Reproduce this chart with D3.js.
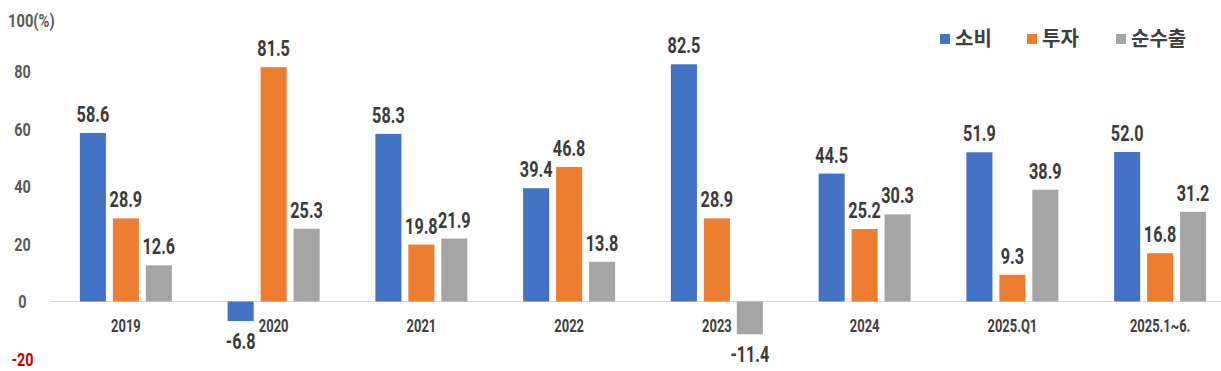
<!DOCTYPE html>
<html><head><meta charset="utf-8">
<script src="https://cdn.jsdelivr.net/npm/d3@7"></script>
<style>body{margin:0;background:#fff}</style>
</head><body>
<svg id="c" width="1221" height="371"></svg>
<script>
const categories = ["2019","2020","2021","2022","2023","2024","2025.Q1","2025.1~6."];
const seriesNames = ["소비","투자","순수출"];
const consumption = [58.6,-6.8,58.3,39.4,82.5,44.5,51.9,52.0];
const investment = [28.9,81.5,19.8,46.8,28.9,25.2,9.3,16.8];
const netExports = [12.6,25.3,21.9,13.8,-11.4,30.3,38.9,31.2];
const yTicks = [-20,0,20,40,60,80,100];
const colors = ["#4472C4","#ED7D31","#A5A5A5"];

const series = [consumption, investment, netExports];
const svg = d3.select("#c");
const numFont = "Roboto,'DejaVu Sans',sans-serif";
const krFont = "'Noto Sans CJK KR',sans-serif";

function ctext(parent, x, yy, txt, size, sx, anchor, fill){
  return parent.append("text")
    .attr("transform",`translate(${x},${yy}) scale(${sx},1)`)
    .attr("text-anchor",anchor)
    .attr("font-family",numFont).attr("font-weight","bold").attr("font-size",size)
    .attr("fill",fill).text(txt);
}

const y = d3.scaleLinear().domain([-20,100]).range([359,14]);
const x0 = d3.scaleBand().domain(categories).range([52,1234]);
const x1 = d3.scaleBand().domain([0,1,2]).range([0,92]).paddingInner(0.21);

// zero line
svg.append("line").attr("x1",50).attr("x2",1221).attr("y1",y(0)).attr("y2",y(0))
  .attr("stroke","#d9d9d9").attr("stroke-width",1);

// y tick labels
yTicks.forEach(d=>{
  if(d===100) ctext(svg, 8, y(d)+13, "100(%)", 18, 0.82, "start", "#595959");
  else ctext(svg, 22.5, y(d)+6.5, d, 18, 0.8, "middle", d<0?"#C00000":"#595959");
});

const groups = svg.selectAll(".g").data(categories).enter().append("g")
  .attr("transform",d=>`translate(${x0(d)+x0.bandwidth()/2-46},0)`);

groups.each(function(cat,i){
  const g = d3.select(this);
  series.forEach((s,k)=>{
    const v = s[i];
    g.append("rect").attr("x",x1(k)).attr("width",x1.bandwidth())
      .attr("y",y(Math.max(0,v))).attr("height",Math.abs(y(v)-y(0)))
      .attr("fill",colors[k]);
    ctext(g, x1(k)+x1.bandwidth()/2, v>=0?y(v)-11:y(v)+28, v.toFixed(1), 22.5, 0.72, "middle", "#3a3a3a");
  });
});

// category labels
categories.forEach(d=>{
  ctext(svg, x0(d)+x0.bandwidth()/2, 331.5, d, 17.5, 0.74, "middle", "#404040");
});

// legend
const legX = [940,1027,1116];
seriesNames.forEach((n,k)=>{
  svg.append("rect").attr("x",legX[k]).attr("y",34).attr("width",10).attr("height",10).attr("fill",colors[k]);
  svg.append("text").attr("x",legX[k]+15).attr("y",46)
    .attr("font-family",krFont).attr("font-weight","bold").attr("font-size",20)
    .attr("fill","#404040").text(n);
});
</script>
</body></html>
